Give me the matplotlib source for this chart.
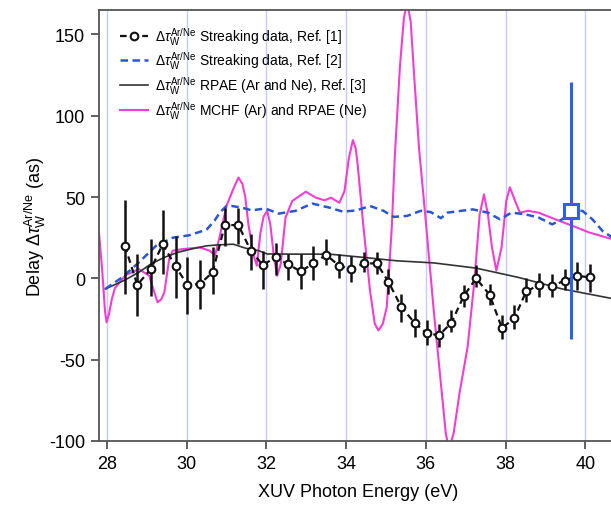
import matplotlib
matplotlib.use("Agg")
import matplotlib.pyplot as plt

plt.rcParams['font.family'] = ['Liberation Sans', 'DejaVu Sans']
plt.rcParams['mathtext.fontset'] = 'custom'
plt.rcParams['mathtext.rm'] = 'Liberation Sans'
plt.rcParams['mathtext.it'] = 'Liberation Sans:italic'
plt.rcParams['mathtext.sf'] = 'Liberation Sans'
plt.rcParams['axes.unicode_minus'] = False

# ---- Streaking data, Ref. [1] (black circles with error bars)
e1 = [28.45, 28.76, 29.10, 29.40, 29.72, 30.02, 30.33, 30.65, 30.96, 31.30,
      31.61, 31.91, 32.23, 32.53, 32.86, 33.18, 33.50, 33.82, 34.13, 34.45,
      34.77, 35.06, 35.39, 35.72, 36.02, 36.33, 36.64, 36.95, 37.26, 37.60,
      37.91, 38.22, 38.52, 38.85, 39.17, 39.49, 39.80, 40.11]
d1 = [20.0, -4.0, 5.7, 21.0, 7.3, -4.0, -3.5, 3.7, 33.0, 32.6,
      17.0, 8.2, 12.9, 8.8, 4.3, 9.2, 14.5, 7.8, 5.7, 9.2,
      9.2, -2.0, -17.8, -27.4, -33.7, -35.0, -27.4, -11.0, 0.0, -10.0,
      -30.6, -24.5, -8.0, -4.0, -4.5, -1.4, 1.6, 0.6]
d1_top = [48, 15, 24, 42, 26, 13, 11, 19, 43.5, 43.5,
          27, 17, 22, 14.9, 15, 20, 24, 15, 14, 16,
          16, 5.7, -9.6, -18.8, -25.7, -28, -19.6, -4.3, 8, -3.5,
          -22.7, -16.5, 0, 3, 2.6, 5.7, 9.8, 8.8]
d1_bot = [-9.6, -23, -11, 2.6, -12, -22, -19, -9.6, 20, 21,
          5.3, -6.5, 2, -1, -6.5, -1, 8, 0, -2.5, 3.7,
          2.6, -9.6, -27, -36, -41, -42, -33, -17.8, -5.5, -16.5,
          -37, -31, -14.7, -11.6, -11.6, -7.4, -7.4, -8.6]

# ---- Streaking data, Ref. [2] (blue dashed)
e2 = [27.96, 28.38, 28.80, 29.23, 29.65, 30.07, 30.50, 30.70, 30.83, 31.00,
      31.13, 31.38, 31.64, 31.97, 32.31, 32.73, 33.15, 33.58, 33.92, 34.26,
      34.60, 34.94, 35.19, 35.53, 35.87, 36.12, 36.38, 36.54, 36.88, 37.18,
      37.56, 37.86, 38.15, 38.49, 38.83, 39.17, 39.42, 39.68, 39.93, 40.18,
      40.44, 40.69, 40.80]
d2 = [-6.5, 0.6, 9.8, 20.0, 25.0, 26.5, 30.0, 35.5, 40.4, 44.5,
      44.5, 43.5, 41.8, 43.0, 39.8, 41.5, 46.0, 43.5, 41.0, 41.8,
      44.5, 41.5, 37.8, 38.4, 41.5, 40.8, 37.0, 40.4, 41.5, 42.4,
      40.4, 36.3, 40.4, 39.4, 37.4, 33.2, 36.3, 41.5, 41.5, 36.3,
      29.0, 25.0, 24.0]

# ---- single representative point with error bar (blue square)
e_sq = [39.64]
d_sq = [41.5]
d_sq_err = [79.0]

# ---- RPAE (Ar and Ne), Ref. [3] (black solid)
e3 = [27.96, 28.42, 28.80, 29.10, 29.44, 29.78, 30.11, 30.50, 30.79, 31.17,
      31.47, 31.81, 32.02, 32.74, 33.58, 34.43, 35.27, 36.20, 37.26, 38.32,
      39.42, 40.80]
d3 = [-6.5, -1.4, 3.7, 8.8, 12.9, 16.0, 18.0, 20.0, 20.6, 21.0,
      18.6, 17.0, 15.0, 14.9, 14.9, 12.9, 10.8, 9.5, 6.3, 0.6,
      -6.5, -13.0]

# ---- MCHF (Ar) and RPAE (Ne) (magenta)
e4 = [27.80, 27.88, 27.95, 27.99, 28.05, 28.12, 28.20, 28.47, 28.80, 29.06,
      29.18, 29.27, 29.36, 29.44, 29.56, 29.65, 29.90, 30.33, 30.58, 30.71,
      30.83, 31.00, 31.17, 31.30, 31.40, 31.47, 31.55, 31.68, 31.76, 31.85,
      31.93, 32.02, 32.10, 32.19, 32.27, 32.36, 32.48, 32.65, 32.99, 33.24,
      33.46, 33.62, 33.83, 33.96, 34.07, 34.17, 34.24, 34.29, 34.43, 34.60,
      34.72, 34.81, 34.92, 35.02, 35.15, 35.22, 35.35, 35.45, 35.53, 35.62,
      35.72, 35.83, 36.00, 36.20, 36.38, 36.50, 36.58, 36.70, 36.85, 37.05,
      37.22, 37.35, 37.46, 37.56, 37.66, 37.77, 37.90, 38.02, 38.11, 38.24,
      38.36, 38.57, 38.83, 39.25, 39.68, 40.10, 40.69]
d4 = [28.0, 5.0, -20.0, -27.0, -22.0, -13.0, -6.0, 2.0, 5.7, 1.6,
      -8.0, -14.7, -13.0, -8.6, 11.8, 17.0, 18.0, 19.0, 17.0, 14.0,
      26.0, 44.5, 55.0, 62.0, 58.0, 50.0, 33.0, 14.0, 7.8, 28.0,
      38.0, 41.5, 33.0, 12.9, 1.6, 8.8, 37.4, 47.6, 53.3, 49.6,
      48.0, 49.6, 46.5, 53.7, 74.0, 85.0, 80.0, 70.0, 33.0, -7.5,
      -28.0, -32.0, -28.0, -17.8, 33.0, 74.0, 130.0, 160.0, 170.0, 158.0,
      120.0, 80.0, 35.0, -20.0, -65.0, -95.0, -105.0, -95.0, -70.0, -42.0,
      -1.4, 39.0, 51.6, 39.0, 19.0, 4.7, 19.0, 47.6, 56.0, 47.6,
      40.4, 41.5, 40.4, 36.3, 32.3, 28.2, 24.0]

xticks = [28, 30, 32, 34, 36, 38, 40]
yticks = [-100, -50, 0, 50, 100, 150]

sup = r'$\Delta\tau_{\mathrm{W}}^{\mathrm{Ar/Ne}}$'
labels = [sup + ' Streaking data, Ref. [1]',
          sup + ' Streaking data, Ref. [2]',
          sup + ' RPAE (Ar and Ne), Ref. [3]',
          sup + ' MCHF (Ar) and RPAE (Ne)']

fig = plt.figure(figsize=(6.11, 5.10), dpi=100)
ax = fig.add_axes([99 / 611, 1 - 442 / 510, 1 - 99 / 611 + 0.01, (442 - 11) / 510])

for xv in xticks:
    ax.axvline(xv, color='#c9c9f5', lw=1.0, zorder=0)

l4, = ax.plot(e4, d4, color='#f23ed2', lw=1.5, zorder=2)
l3, = ax.plot(e3, d3, color='#333333', lw=1.2, zorder=3)
l2, = ax.plot(e2, d2, color='#2a56d6', lw=1.8, ls=(0, (3, 1.8)), zorder=3)

yerr = [[d - b for d, b in zip(d1, d1_bot)], [t - d for d, t in zip(d1, d1_top)]]
ax.errorbar(e1, d1, yerr=yerr, fmt='none', ecolor='#111111', elinewidth=1.8,
            capsize=0, zorder=4)
l1, = ax.plot(e1, d1, color='#111111', lw=1.6, ls=(0, (3, 2)), marker='o',
              ms=5.5, mfc='white', mec='#111111', mew=1.5, zorder=5)

ax.errorbar(e_sq, d_sq, yerr=d_sq_err, fmt='s', color='#2d5ff0', ecolor='#2d5ff0',
            elinewidth=2.2, capsize=0, ms=10, mfc='white', mec='#2d5ff0', mew=2.2,
            zorder=6)

ax.set_xlim(27.8, 40.8)
ax.set_ylim(-100, 165)
ax.set_xticks(xticks)
ax.set_yticks(yticks)
ax.tick_params(direction='out', length=6, width=1.2, color='#444444',
               labelsize=13, pad=4)
for s in ['left', 'bottom', 'top']:
    ax.spines[s].set_color('#555555')
    ax.spines[s].set_linewidth(1.3)
ax.spines['right'].set_visible(False)

ax.set_xlabel('XUV Photon Energy (eV)', fontsize=13, labelpad=8)
ax.set_ylabel(r'Delay $\Delta\tau_{\mathrm{W}}^{\mathrm{Ar/Ne}}$ (as)', fontsize=13,
              labelpad=1)

leg = ax.legend([l1, l2, l3, l4], labels, loc='upper left',
                bbox_to_anchor=(0.025, 0.985), frameon=False, fontsize=10,
                handlelength=2.0, handletextpad=0.5, labelspacing=0.2,
                borderaxespad=0.2)

fig.savefig('out.png', dpi=100)
